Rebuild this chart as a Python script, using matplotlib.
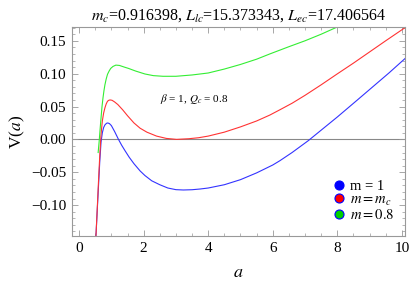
import matplotlib
matplotlib.use("Agg")
import matplotlib.pyplot as plt
from matplotlib.lines import Line2D
from matplotlib.ticker import MultipleLocator, FuncFormatter

plt.rcParams['font.family'] = ['Liberation Serif', 'DejaVu Serif']
plt.rcParams['mathtext.fontset'] = 'stix'

# Data
a_blue = [0.47, 0.52, 0.56, 0.60, 0.64, 0.68, 0.72, 0.76, 0.80, 0.85, 0.89, 0.94, 1.00, 1.10, 1.22,
          1.32, 1.42, 1.55, 1.70, 1.89, 2.04, 2.25, 2.5, 2.75, 3.0, 3.23, 3.5, 3.75, 4.0, 4.5, 5.0,
          5.5, 6.0, 6.22, 6.6, 7.1, 7.5, 8.0, 8.6, 9.1, 9.6, 10.1]
V_blue = [-0.19, -0.149, -0.110, -0.072, -0.034, -0.004, 0.010, 0.018, 0.022, 0.0245, 0.025, 0.024, 0.021, 0.012, 0.0,
          -0.009, -0.017, -0.027, -0.037, -0.048, -0.055, -0.063, -0.069, -0.074, -0.0765, -0.077, -0.0766, -0.0755, -0.074, -0.069, -0.0613,
          -0.051, -0.039, -0.0325, -0.020, -0.002, 0.014, 0.034, 0.059, 0.080, 0.101, 0.123]

a_red = [0.47, 0.52, 0.56, 0.60, 0.64, 0.68, 0.72, 0.76, 0.80, 0.84, 0.88, 0.92, 0.96, 1.02, 1.10, 1.20,
         1.35, 1.5, 1.7, 1.89, 2.1, 2.4, 2.7, 3.02, 3.4, 3.7, 4.0, 4.5, 5.0, 5.5, 5.91, 6.22, 6.6,
         7.0, 7.5, 7.98, 8.5, 9.0, 9.5, 10.1]
V_red = [-0.19, -0.149, -0.108, -0.065, -0.025, 0.008, 0.028, 0.040, 0.048, 0.054, 0.058, 0.0595, 0.060, 0.0595, 0.057, 0.053,
         0.045, 0.036, 0.025, 0.017, 0.011, 0.005, 0.0015, 0.0, 0.001, 0.0025, 0.005, 0.011, 0.019, 0.028, 0.037, 0.045, 0.055,
         0.067, 0.083, 0.099, 0.116, 0.133, 0.150, 0.170]

a_green = [0.59, 0.62, 0.65, 0.68, 0.71, 0.74, 0.77, 0.80, 0.84, 0.88, 0.93, 0.98, 1.05, 1.14, 1.25, 1.4,
           1.53, 1.75, 2.04, 2.3, 2.6, 3.0, 3.5, 4.0, 4.5, 5.0, 5.5, 5.91, 6.5, 7.0, 7.5, 8.0, 8.2]
V_green = [-0.020, -0.004, 0.015, 0.033, 0.050, 0.063, 0.074, 0.083, 0.092, 0.099, 0.104, 0.108, 0.111, 0.113, 0.1125, 0.110,
           0.108, 0.104, 0.0995, 0.097, 0.096, 0.096, 0.098, 0.101, 0.107, 0.114, 0.122, 0.130, 0.141, 0.150, 0.160, 0.171, 0.176]

labels = ['m = 1', r'$m = m_c$', r'$m = 0.8$']
face_colors = ['#0000ff', '#ff0000', '#00d000']
line_colors = ['#3333ff', '#ff3333', '#33ee33']
title = r'$m_c$=0.916398, $L_{lc}$=15.373343, $L_{ec}$=17.406564'
annotation = r'$\beta$ = 1, $Q_c$ = 0.8'

fig = plt.figure(figsize=(4.15, 2.89), dpi=100)
ax = fig.add_axes([0.1735, 0.1834, 0.8025, 0.7232])

ax.axhline(0, color='#888888', lw=0.8, zorder=1)
for a, v, c in zip([a_blue, a_red, a_green], [V_blue, V_red, V_green], line_colors):
    ax.plot(a, v, color=c, lw=0.8, zorder=2)

ax.set_xlim(-0.22, 10.1)
ax.set_ylim(-0.147, 0.171)

ax.xaxis.set_major_locator(MultipleLocator(2))
ax.xaxis.set_minor_locator(MultipleLocator(0.5))
ax.yaxis.set_major_locator(MultipleLocator(0.05))
ax.yaxis.set_minor_locator(MultipleLocator(0.01))
ax.yaxis.set_major_formatter(FuncFormatter(
    lambda v, p: ('\u2212' if v < -1e-9 else '') + f'{abs(v):.2f}'))
ax.tick_params(which='both', direction='in', top=True, right=True, color='#999999',
               labelsize=11, pad=4)
ax.tick_params(which='major', length=4.5, width=0.6)
ax.tick_params(which='minor', length=2.5, width=0.5)
for s in ax.spines.values():
    s.set_color('#999999')
    s.set_linewidth(0.8)

ax.set_xlabel(r'$a$', fontsize=13, labelpad=7)
ax.set_ylabel(r'V($a$)', fontsize=12.5, labelpad=3)
ax.set_title(title, fontsize=11.5, pad=5)
ax.text(2.5, 0.0566, annotation, fontsize=8)

handles = [Line2D([], [], ls='none', marker='o', markersize=6.5, markerfacecolor=fc,
                  markeredgecolor='#0000ff', markeredgewidth=0.8) for fc in face_colors]
ax.legend(handles, labels, loc='lower right', bbox_to_anchor=(1.0, 0.02), frameon=False,
          fontsize=10.5, handletextpad=0.2, labelspacing=0.0, handlelength=1.2, borderpad=0.2)

fig.savefig('out.png', dpi=100)
